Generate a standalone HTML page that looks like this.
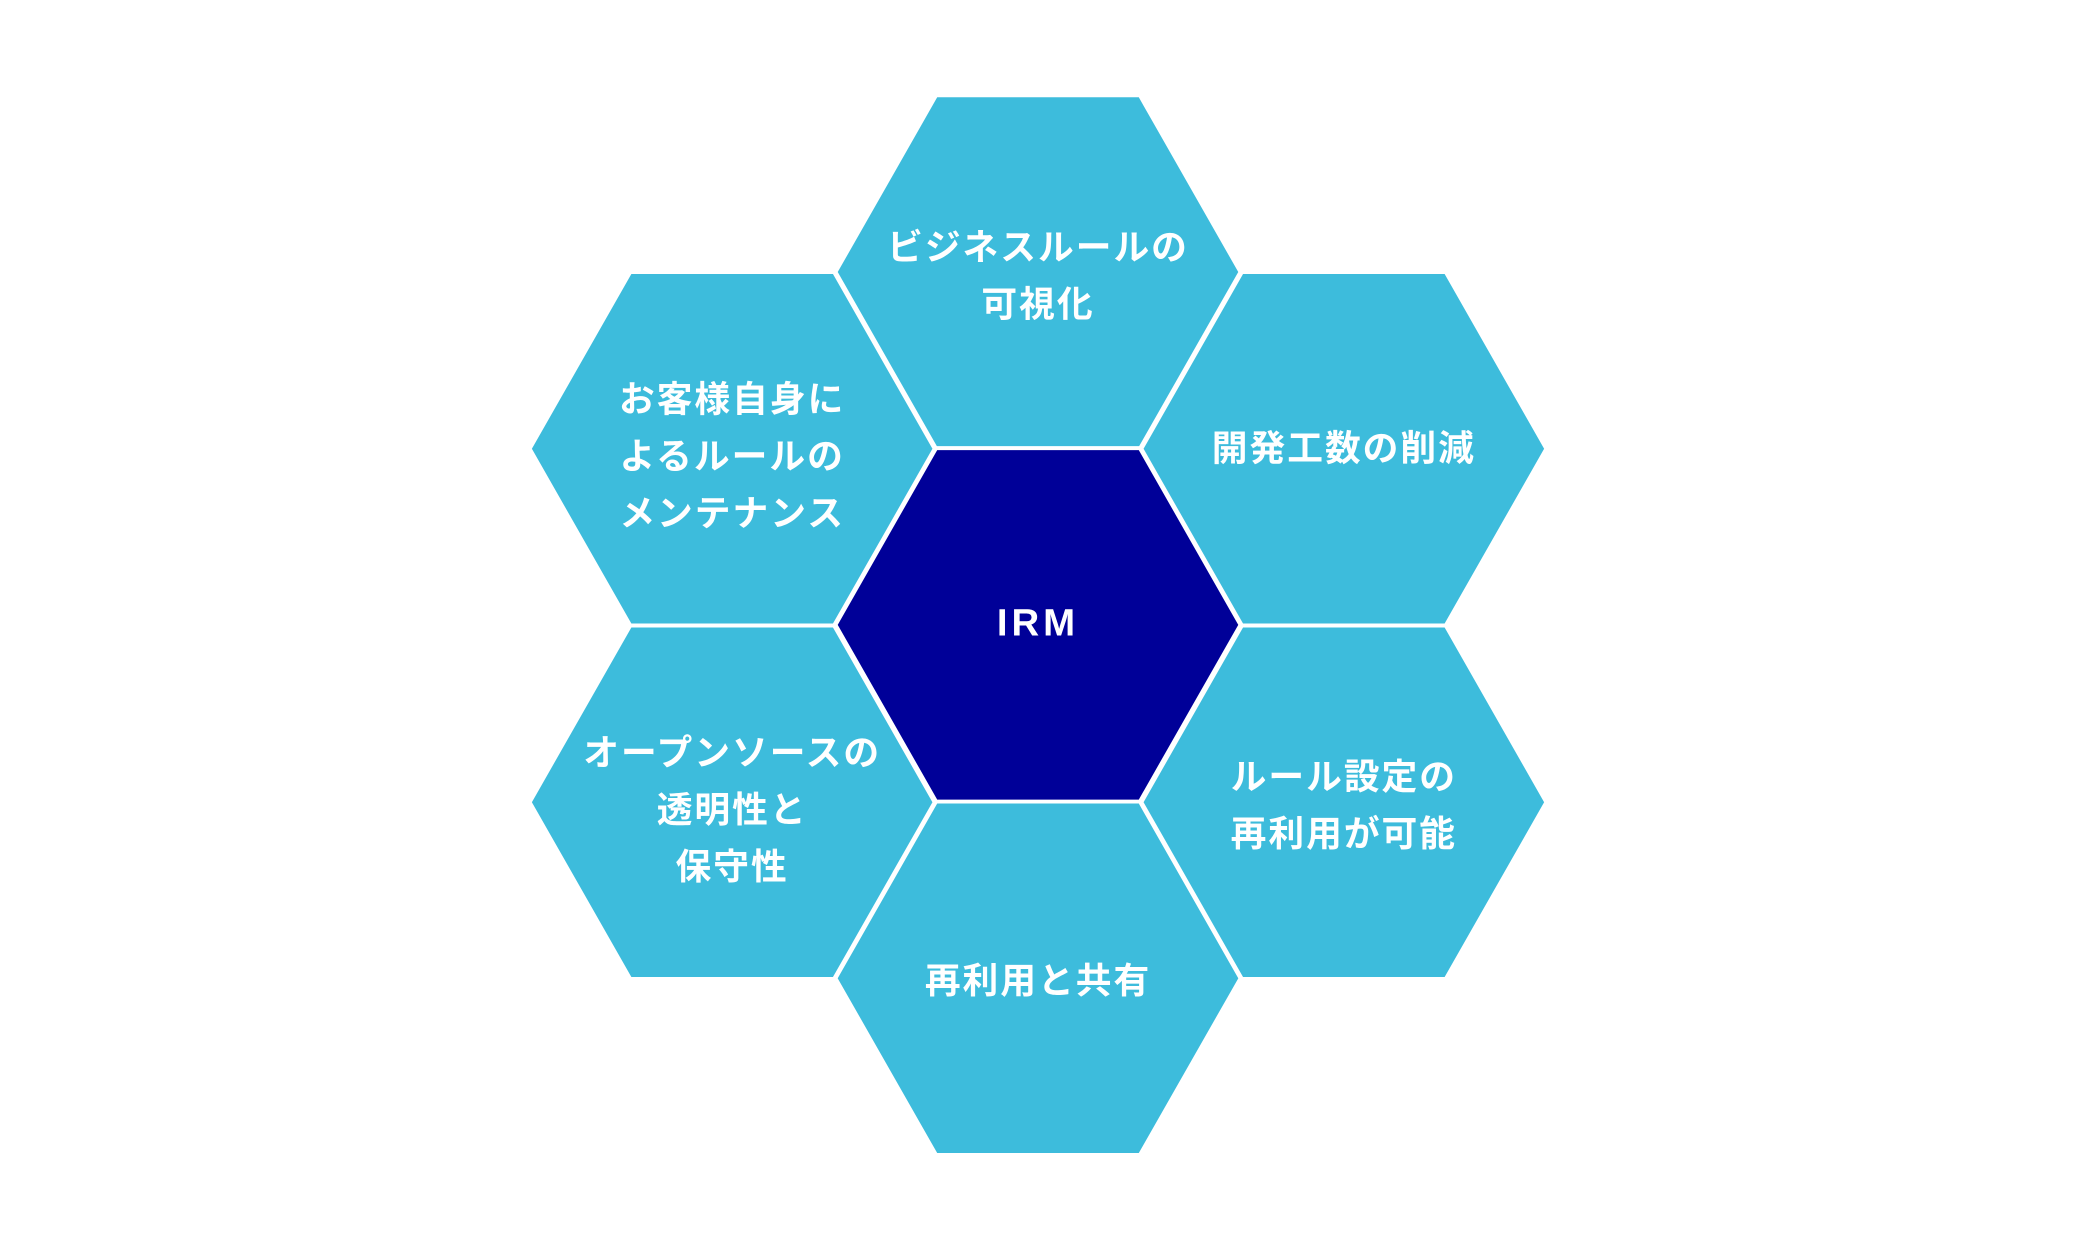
<!DOCTYPE html>
<html><head><meta charset="utf-8"><style>
html,body{margin:0;padding:0;background:#fff;}
svg{display:block;}
text{font-family:"Liberation Sans","Noto Sans CJK JP",sans-serif;font-weight:bold;fill:#fff;font-size:27px;letter-spacing:1.5px;text-anchor:middle;}
</style></head><body>
<svg width="2076" height="1251" viewBox="0 0 1568 945" preserveAspectRatio="none">
<defs>
<polygon id="h" points="-153,0 -77,-133.5 77,-133.5 153,0 77,133.5 -77,133.5"/>
</defs>
<g stroke="#fff" stroke-width="3">
<use href="#h" x="784" y="205.5" fill="#3dbcdc"/>
<use href="#h" x="553" y="339" fill="#3dbcdc"/>
<use href="#h" x="1015" y="339" fill="#3dbcdc"/>
<use href="#h" x="553" y="606" fill="#3dbcdc"/>
<use href="#h" x="1015" y="606" fill="#3dbcdc"/>
<use href="#h" x="784" y="739" fill="#3dbcdc"/>
<use href="#h" x="784" y="472" fill="#000098"/>
</g>
<text x="784" y="196">ビジネスルールの</text>
<text x="784" y="239">可視化</text>
<text x="553" y="311">お客様自身に</text>
<text x="553" y="354">よるルールの</text>
<text x="553" y="397">メンテナンス</text>
<text x="1015" y="348">開発工数の削減</text>
<text x="784" y="480" style="font-size:29px;letter-spacing:3px">IRM</text>
<text x="553" y="578">オープンソースの</text>
<text x="553" y="621">透明性と</text>
<text x="553" y="664">保守性</text>
<text x="1015" y="596">ルール設定の</text>
<text x="1015" y="639">再利用が可能</text>
<text x="784" y="750">再利用と共有</text>
</svg>
</body></html>
